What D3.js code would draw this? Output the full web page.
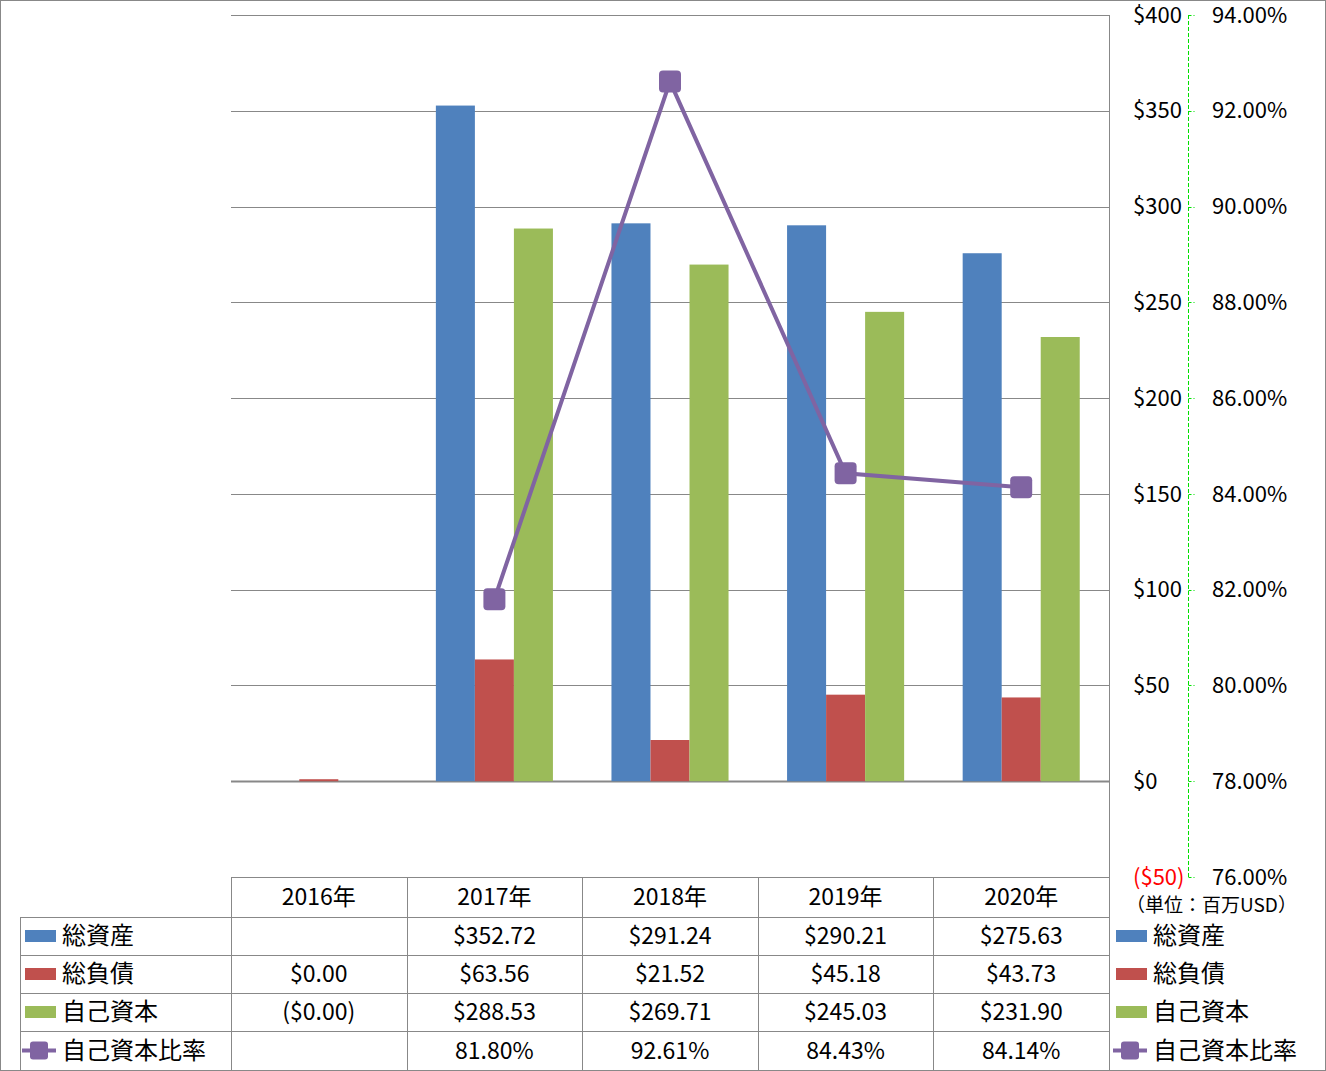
<!DOCTYPE html>
<html><head><meta charset="utf-8">
<script src="https://cdn.jsdelivr.net/npm/d3@7"></script>
<style>body{margin:0;background:#fff}svg{display:block}text{font-family:"Noto Sans CJK JP","Noto Sans",sans-serif}</style>
</head><body>
<script>
const years = ["2016年","2017年","2018年","2019年","2020年"];
const seriesNames = ["総資産","総負債","自己資本"];
const totalAssets = [null, 352.72, 291.24, 290.21, 275.63];
const totalLiabilities = [0.00, 63.56, 21.52, 45.18, 43.73];
const equity = [-0.00, 288.53, 269.71, 245.03, 231.90];
const ratioName = "自己資本比率";
const equityRatio = [null, 81.80, 92.61, 84.43, 84.14];
const leftTicks = [-50,0,50,100,150,200,250,300,350,400];
const rightTicks = [76,78,80,82,84,86,88,90,92,94];
const unitLabel = "（単位：百万USD）";
const colors = ["#4F81BD","#C0504D","#9BBB59"];
const purple = "#8064A2";
const barSeries = [totalAssets,totalLiabilities,equity];

(function(){
const W=1326,H=1071;
const svg=d3.select("body").append("svg").attr("width",W).attr("height",H);
svg.append("rect").attr("x",0.5).attr("y",0.5).attr("width",W-1).attr("height",H-1).attr("fill","#fff").attr("stroke","#888");

const pL=231,pR=1109,pT=15,pB=877;
const x=d3.scaleBand().domain(years).range([pL,pR]).padding(0);
const xs=d3.scaleBand().domain(seriesNames).range([0,x.bandwidth()]).paddingInner(0).paddingOuter(0.75);
const yL=d3.scaleLinear().domain([-50,400]).range([pB,pT]);
const yR=d3.scaleLinear().domain([76,94]).range([pB,pT]);

svg.append("g").selectAll("line").data(leftTicks.filter(t=>t>-50)).join("line")
 .attr("x1",pL).attr("x2",pR).attr("y1",d=>Math.round(yL(d))+0.5).attr("y2",d=>Math.round(yL(d))+0.5)
 .attr("stroke","#888").attr("stroke-width",d=>d===0?2:1);

const fmt=v=>{if(v===null)return "";const neg=v<0||Object.is(v,-0);const s="$"+d3.format(",.2f")(Math.abs(v));return neg?"("+s+")":s;};
const isPosZero=v=>v===0&&!Object.is(v,-0);
barSeries.forEach((arr,si)=>{
  svg.append("g").selectAll("rect").data(arr.map((v,i)=>({v,yr:years[i]})).filter(d=>d.v!==null)).join("rect")
   .attr("x",d=>x(d.yr)+xs(seriesNames[si])).attr("width",xs.bandwidth())
   .attr("y",d=>{const h=isPosZero(d.v)?2:Math.abs(yL(d.v)-yL(0));return d.v>=0?yL(0)-h:yL(0);})
   .attr("height",d=>isPosZero(d.v)?2:Math.abs(yL(d.v)-yL(0)))
   .attr("fill",colors[si]);
});

const pts=equityRatio.map((v,i)=>({v,yr:years[i]})).filter(d=>d.v!==null);
svg.append("path").datum(pts).attr("fill","none").attr("stroke",purple).attr("stroke-width",4)
 .attr("d",d3.line().x(d=>x(d.yr)+x.bandwidth()/2).y(d=>yR(d.v)));
svg.append("g").selectAll("rect").data(pts).join("rect")
 .attr("x",d=>x(d.yr)+x.bandwidth()/2-11).attr("y",d=>yR(d.v)-11).attr("width",22).attr("height",22)
 .attr("rx",4).attr("fill",purple);

svg.append("line").attr("x1",pR+0.5).attr("x2",pR+0.5).attr("y1",pT).attr("y2",1070).attr("stroke","#888");

svg.append("g").selectAll("text").data(leftTicks).join("text")
 .attr("x",1133).attr("y",d=>yL(d)).attr("dy","0.35em").attr("font-size",22)
 .attr("fill",d=>d<0?"#FF0000":"#000")
 .text(d=>d<0?"($"+Math.abs(d)+")":"$"+d);

const ax=1188.5;
svg.append("line").attr("x1",ax).attr("x2",ax).attr("y1",pT).attr("y2",pB).attr("stroke","#00E000").attr("stroke-dasharray","4,2");
svg.append("g").selectAll("line").data(rightTicks).join("line")
 .attr("x1",ax).attr("x2",ax+6).attr("y1",d=>Math.round(yR(d))+0.5).attr("y2",d=>Math.round(yR(d))+0.5)
 .attr("stroke","#00E000").attr("stroke-dasharray","3,2");
svg.append("g").selectAll("text").data(rightTicks).join("text")
 .attr("x",1212).attr("y",d=>yR(d)).attr("dy","0.35em").attr("font-size",22)
 .text(d=>d3.format(".2f")(d)+"%");

svg.append("text").attr("x",1126).attr("y",905).attr("dy","0.35em").attr("font-size",19).text(unitLabel);

const rowsY=[877,917,955,993,1031,1070];
const tg=svg.append("g").attr("stroke","#888").attr("stroke-width",1);
tg.append("line").attr("x1",pL).attr("x2",pR).attr("y1",877.5).attr("y2",877.5);
rowsY.slice(1).forEach(yy=>tg.append("line").attr("x1",20).attr("x2",pR).attr("y1",yy+0.5).attr("y2",yy+0.5));
tg.append("line").attr("x1",20.5).attr("x2",20.5).attr("y1",917).attr("y2",1070);
years.forEach(yr=>tg.append("line").attr("x1",Math.round(x(yr))+0.5).attr("x2",Math.round(x(yr))+0.5).attr("y1",877).attr("y2",1070));

svg.append("g").selectAll("text").data(years).join("text")
 .attr("x",d=>x(d)+x.bandwidth()/2).attr("y",(877+917)/2).attr("dy","0.35em").attr("text-anchor","middle").attr("font-size",23).text(d=>d);

const allSeries=[...barSeries.map(a=>a.map(fmt)), equityRatio.map(v=>v===null?"":d3.format(".2f")(v)+"%")];
allSeries.forEach((vals,ri)=>{
  const cy=(rowsY[ri+1]+rowsY[ri+2])/2;
  svg.append("g").selectAll("text").data(vals.map((s,i)=>({s,yr:years[i]}))).join("text")
   .attr("x",d=>x(d.yr)+x.bandwidth()/2).attr("y",cy).attr("dy","0.35em").attr("text-anchor","middle").attr("font-size",23).text(d=>d.s);
});

const names=[...seriesNames,ratioName];
function legend(x0,tx){
  names.forEach((n,i)=>{
    const cy=(rowsY[i+1]+rowsY[i+2])/2;
    if(i<3){
      svg.append("rect").attr("x",x0).attr("y",cy-6).attr("width",31).attr("height",12).attr("fill",colors[i]);
    } else {
      svg.append("line").attr("x1",x0-3).attr("x2",x0+31).attr("y1",cy).attr("y2",cy).attr("stroke",purple).attr("stroke-width",4);
      svg.append("rect").attr("x",x0+5).attr("y",cy-9).attr("width",18).attr("height",18).attr("rx",3).attr("fill",purple);
    }
    svg.append("text").attr("x",tx).attr("y",cy).attr("dy","0.35em").attr("font-size",24).text(n);
  });
}
legend(25,62);
legend(1116,1153);
})();
</script>
</body></html>
